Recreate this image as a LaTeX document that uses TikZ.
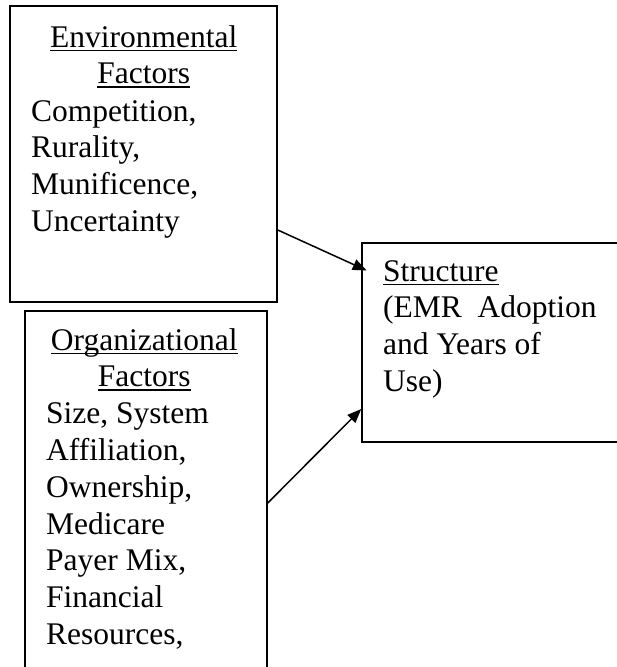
\documentclass[tikz,border=0pt]{standalone}
\usepackage{fontspec}
\setmainfont{Liberation Serif}
\usetikzlibrary{arrows.meta}
\newcommand\ulx[1]{\leavevmode\setbox0\hbox{#1}\rlap{\rule[-4pt]{\wd0}{1.4pt}}\box0}
\newcommand\bodyfont{\fontsize{31.5}{36.8}\selectfont}
\tikzset{
  boxshape/.style={draw, line width=1.5pt, rectangle, inner sep=0pt},
  txt/.style={anchor=base west, inner sep=0pt, font=\bodyfont},
  link/.style={line width=1.5pt, -{Triangle[length=14pt,width=11pt]}}
}
\begin{document}
\begin{tikzpicture}[x=1pt,y=1pt]
\useasboundingbox (0,0) rectangle (617,-667);
\clip (0,0) rectangle (617,-667);
\fill[white] (0,0) rectangle (617,-667);
% boxes
\node[boxshape, minimum width=267pt, minimum height=296pt] (env) at (143.5,-154) {};
\node[boxshape, minimum width=242pt, minimum height=400pt] (org) at (146,-511) {};
\node[boxshape, minimum width=340pt, minimum height=199pt] (str) at (532,-342.5) {};
% texts
\node[txt] (envt) at (10,-47) {\parbox[t]{267pt}{\centering\ulx{Environmental}\\\ulx{Factors}}};
\node[txt] (envb) at (31,-121) {\parbox[t]{240pt}{\raggedright Competition,\\Rurality,\\Munificence,\\Uncertainty}};
\node[txt] (orgt) at (23,-350) {\parbox[t]{242pt}{\centering\ulx{Organizational}\\\ulx{Factors}}};
\node[txt] (orgb) at (46,-423.6) {\parbox[t]{220pt}{\raggedright Size, System\\Affiliation,\\Ownership,\\Medicare\\Payer Mix,\\Financial\\Resources,}};
\node[txt] (strb) at (383,-281) {\parbox[t]{230pt}{\raggedright \ulx{Structure}\\(EMR\ \ Adoption\\and Years of\\Use)}};
% connectors
\coordinate (a1s) at (env.east |- 0,-230);
\coordinate (a1e) at (str.west |- 0,-268);
\coordinate (a2s) at (org.east |- 0,-503);
\coordinate (a2e) at (str.west |- 0,-409);
\draw[link, shorten >=-6pt] (a1s) -- (a1e);
\draw[link] (a2s) -- (a2e);
\end{tikzpicture}
\end{document}
